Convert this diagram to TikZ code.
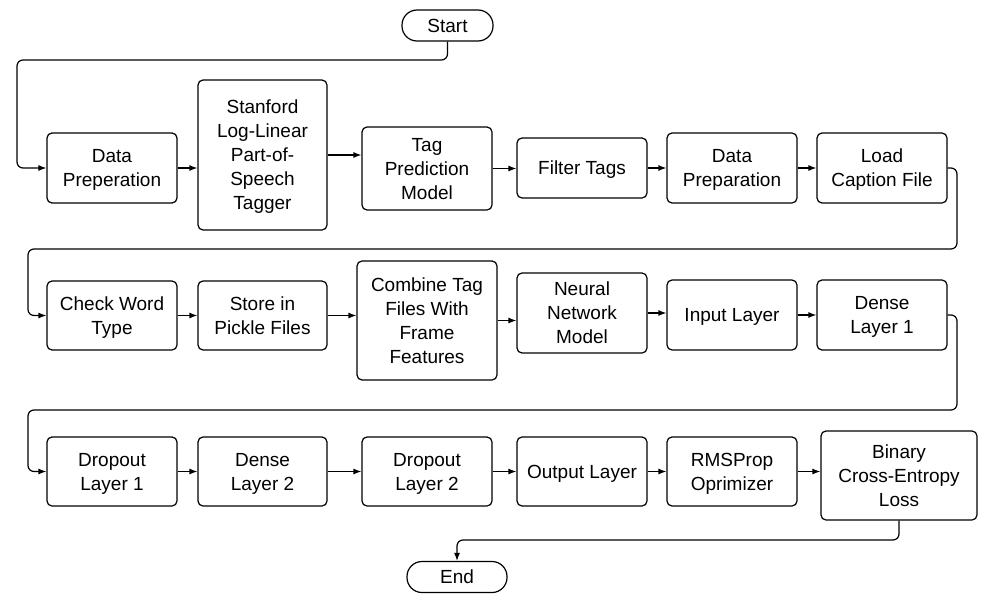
\documentclass[tikz,border=0pt]{standalone}
\usepackage{fontspec}
\setmainfont{Liberation Sans}
\usetikzlibrary{arrows.meta}
\newcommand{\boxfont}{\fontsize{19}{24}\selectfont}
\newcommand{\ls}{\rule[-5.2pt]{0pt}{24pt}}
\tikzstyle{every node}=[font=\boxfont, inner sep=0pt, align=center]
\tikzstyle{blk}=[draw, line width=1.2pt, rounded corners=5pt, minimum width=130pt, minimum height=70pt]
\tikzstyle{term}=[draw, line width=1.2pt, rounded corners=15pt, minimum height=31pt]
\tikzstyle{arr}=[-{Latex[length=8pt,width=6pt]}, line width=1.2pt, rounded corners=6pt]

\begin{document}
\begin{tikzpicture}[x=1pt, y=-1pt]
  \useasboundingbox (0,0) rectangle (988,602);
  \node[term, minimum width=91pt] (start) at (447.5,25.5) {\ls Start};
  \node[term, minimum width=100pt] (end) at (457,577) {\ls End};

  \node[blk] (dp1) at (112,168) {\ls Data\\Preperation\ls};
  \node[blk, minimum width=129pt, minimum height=150pt] (stf) at (262.5,155) {\ls Stanford\\Log-Linear\\Part-of-\\Speech\\Tagger\ls};
  \node[blk, minimum height=83pt] (tpm) at (427,168.5) {\ls Tag\\Prediction\\Model\ls};
  \node[blk, minimum height=60pt] (flt) at (582,168) {\ls Filter Tags};
  \node[blk] (dp2) at (732,168) {\ls Data\\Preparation\ls};
  \node[blk] (lcf) at (882,168) {\ls Load\\Caption File\ls};

  \node[blk, minimum height=69pt] (cwt) at (112,315.5) {\ls Check Word\\Type\ls};
  \node[blk, minimum width=129pt, minimum height=69pt] (spf) at (262.5,315.5) {\ls Store in\\Pickle Files\ls};
  \node[blk, minimum width=140pt, minimum height=119pt] (ctf) at (427,320.5) {\ls Combine Tag\\Files With\\Frame\\Features\ls};
  \node[blk, minimum height=80pt] (nnm) at (582,313) {\ls Neural\\Network\\Model\ls};
  \node[blk] (inp) at (732,315) {\ls Input Layer};
  \node[blk] (dl1) at (882,315) {\ls Dense\\Layer 1\ls};

  \node[blk, minimum height=69pt] (dr1) at (112,471.5) {\ls Dropout\\Layer 1\ls};
  \node[blk, minimum width=129pt, minimum height=69pt] (dl2) at (262.5,471.5) {\ls Dense\\Layer 2\ls};
  \node[blk, minimum height=69pt] (dr2) at (427,471.5) {\ls Dropout\\Layer 2\ls};
  \node[blk, minimum height=69pt] (out) at (582,471.5) {\ls Output Layer};
  \node[blk, minimum height=69pt] (rms) at (732,471.5) {\ls RMSProp\\Oprimizer\ls};
  \node[blk, minimum width=156pt, minimum height=89pt] (bce) at (899,475.5) {\ls Binary\\Cross-Entropy\\Loss\ls};

  \coordinate (k1) at (17,60);
  \coordinate (k2) at (957,249);
  \coordinate (k3) at (28,249);
  \coordinate (k4) at (957,410);
  \coordinate (k5) at (28,410);
  \coordinate (k6) at (457,540);

  \draw[arr] (start.south) |- (k1) |- (dp1.west);
  \draw[arr] (lcf.east) -| (k2) -- (k3) |- (cwt.west);
  \draw[arr] (dl1.east) -| (k4) -- (k5) |- (dr1.west);
  \draw[arr] (bce.south) |- (k6) -- (end.north);
  \foreach \a/\b in {dp1/stf, stf/tpm, tpm/flt, flt/dp2, dp2/lcf,
                     cwt/spf, spf/ctf, ctf/nnm, nnm/inp, inp/dl1,
                     dr1/dl2, dl2/dr2, dr2/out, out/rms, rms/bce}
    \draw[arr] (\a.east) -- (\a.east -| \b.west);
\end{tikzpicture}
\end{document}
